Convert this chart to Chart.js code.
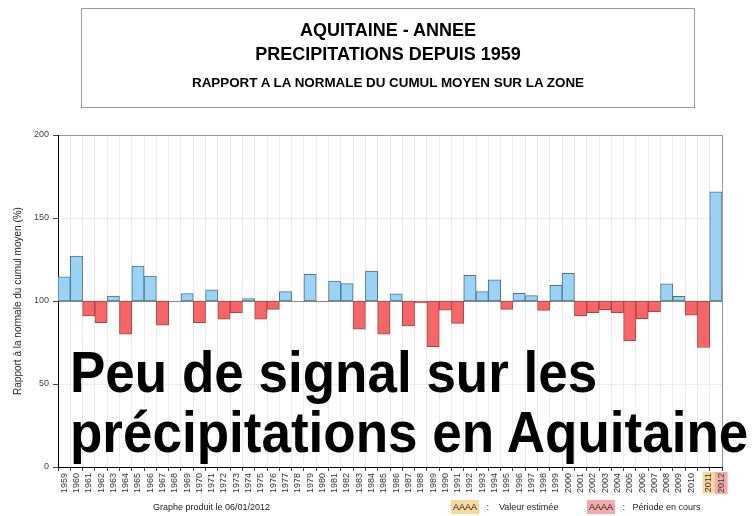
<!DOCTYPE html>
<html>
<head>
<meta charset="utf-8">
<script src="https://cdn.jsdelivr.net/npm/chart.js@4.4.1/dist/chart.umd.min.js"></script>
<style>
  html, body { margin: 0; padding: 0; background: #fff; }
  #wrap { position: relative; width: 756px; height: 516px; overflow: hidden; font-family: "Liberation Sans", Arial, sans-serif; }
  #c { position: absolute; left: 0; top: 0; }
  .abs { position: absolute; white-space: nowrap; }
  #titlebox { position: absolute; left: 81px; top: 8px; width: 612px; height: 98px; border: 1px solid #9a9a9a; }
  .t { position: absolute; left: 0; width: 100%; text-align: center; font-weight: bold; color: #000; }
  #big { position: absolute; left: 70px; top: 342px; font-weight: bold; font-size: 53px; line-height: 54.5px; color: #000; transform: scaleY(1.1); transform-origin: 0 0; white-space: nowrap; }
  .foot { font-size: 9px; line-height: 9px; color: #222; }
  .chip { padding: 2px 2px; }
</style>
</head>
<body>
<div id="wrap">
  <canvas id="c" width="756" height="516"></canvas>
  <div id="titlebox">
    <div class="t" style="top:12px;font-size:18px;line-height:18px;">AQUITAINE - ANNEE</div>
    <div class="t" style="top:36px;font-size:18px;line-height:18px;">PRECIPITATIONS DEPUIS 1959</div>
    <div class="t" style="top:67px;font-size:13.4px;line-height:13.4px;">RAPPORT A LA NORMALE DU CUMUL MOYEN SUR LA ZONE</div>
  </div>
  <div id="big">Peu de signal sur les<br>précipitations en Aquitaine</div>
  <div class="abs foot" style="left:153px;top:503px;">Graphe produit le 06/01/2012</div>
  <div class="abs foot" style="left:451px;top:503px;"><span class="chip" style="background:#fad89c;">AAAA</span>&nbsp;&nbsp;&nbsp;:&nbsp;&nbsp;&nbsp;&nbsp;Valeur estimée</div>
  <div class="abs foot" style="left:587px;top:503px;"><span class="chip" style="background:#f6abab;">AAAA</span>&nbsp;&nbsp;&nbsp;:&nbsp;&nbsp;&nbsp;Période en cours</div>
</div>
<script>
// ---- data ----
const years = ["1959","1960","1961","1962","1963","1964","1965","1966","1967","1968",
  "1969","1970","1971","1972","1973","1974","1975","1976","1977","1978",
  "1979","1980","1981","1982","1983","1984","1985","1986","1987","1988",
  "1989","1990","1991","1992","1993","1994","1995","1996","1997","1998",
  "1999","2000","2001","2002","2003","2004","2005","2006","2007","2008",
  "2009","2010","2011","2012"];
const ratio = [114.5,127,91,87,103,80,121,115,85.5,100,
  104.4,87,106.8,89,93,101.4,89,95,105.6,100,
  116,99.7,112,110.5,83,118,80,104.3,85,99,
  72.5,94.5,86.5,115.5,105.6,112.8,95,104.6,103.2,94.4,
  109.4,116.7,91,93,94.8,93,76,89.4,93.6,110.4,
  102.8,91.4,72,165.7];
const normal = 100;
const yTicks = [0, 50, 100, 150, 200];
const estimatedYear = "2011";
const currentYear = "2012";
const yTitle = "Rapport à la normale du cumul moyen (%)";

Chart.defaults.font.family = '"Liberation Sans", Arial, sans-serif';

const floating = ratio.map(v => [normal, v]);

new Chart(document.getElementById('c'), {
  type: 'bar',
  data: {
    labels: years,
    datasets: [{
      data: floating,
      backgroundColor: ctx => (ratio[ctx.dataIndex] >= normal ? '#9ad3f8' : '#f96565'),
      borderColor: ctx => (ratio[ctx.dataIndex] >= normal ? '#4f7386' : '#9a4a4a'),
      borderWidth: 1,
      borderSkipped: false,
      categoryPercentage: 1.0,
      barPercentage: 1.0
    }]
  },
  options: {
    responsive: false,
    animation: false,
    layout: { padding: { left: 12, right: 34, top: 135, bottom: 9 } },
    plugins: { legend: { display: false }, tooltip: { enabled: false } },
    scales: {
      x: {
        offset: true,
        grid: {
          offset: true,
          color: ctx => (ctx.tick === undefined ? '#9a9a9a' : '#ececec'),
          tickColor: '#444',
          tickLength: 4,
          lineWidth: 1
        },
        border: { color: '#000', width: 1 },
        ticks: {
          autoSkip: false,
          minRotation: 90,
          maxRotation: 90,
          font: { size: 9 },
          color: '#333',
          padding: 2,
          showLabelBackdrop: ctx => (years[ctx.index] === estimatedYear || years[ctx.index] === currentYear),
          backdropColor: ctx => (years[ctx.index] === estimatedYear ? '#fad89c' : '#f6abab'),
          backdropPadding: { x: 1, y: 1 }
        },
        afterFit: s => { s.height = 40; }
      },
      y: {
        min: 0,
        max: 200,
        afterBuildTicks: s => { s.ticks = yTicks.map(v => ({ value: v })); },
        ticks: { font: { size: 9 }, color: '#444', padding: 4 },
        grid: {
          color: ctx => {
            const v = ctx.tick ? ctx.tick.value : null;
            if (v === 100) return '#8a8a8a';
            if (v === 200) return '#9a9a9a';
            return '#ececec';
          },
          tickColor: '#444',
          tickLength: 5
        },
        border: { color: '#000', width: 1 },
        title: { display: true, text: yTitle, font: { size: 10 }, color: '#222', padding: 0 },
        afterFit: s => { s.width = 46; }
      }
    }
  }
});
</script>
</body>
</html>
